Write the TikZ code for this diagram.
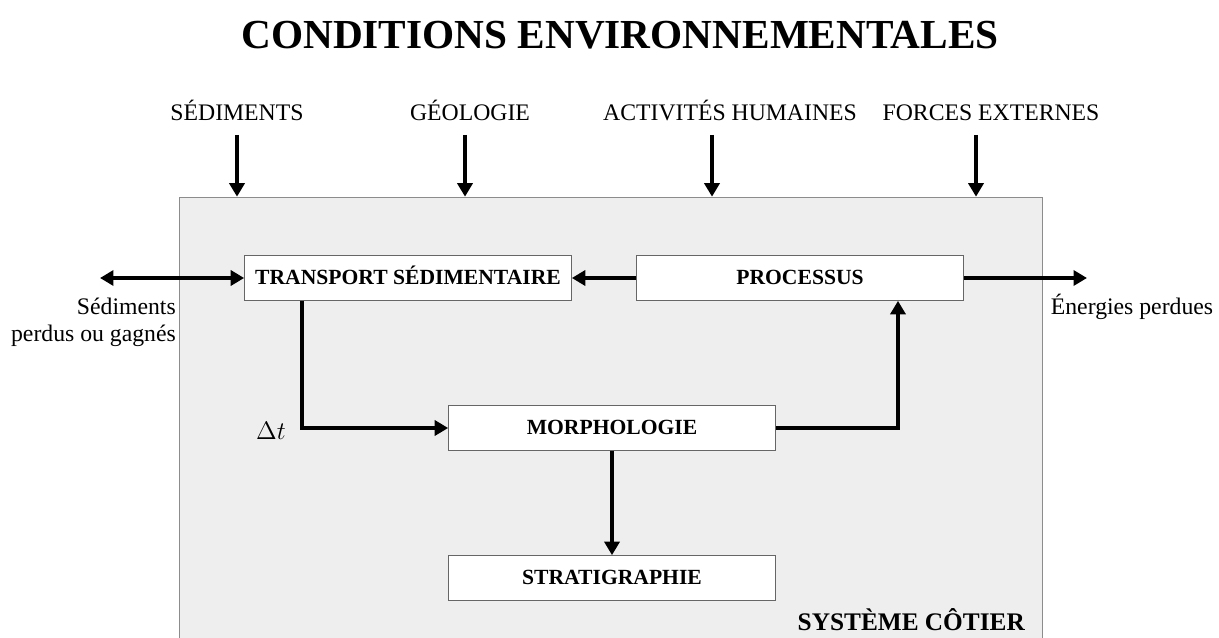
\documentclass[tikz,border=0pt]{standalone}
\usepackage{fontspec}
\setmainfont{Liberation Serif}
\usetikzlibrary{arrows.meta}
\usetikzlibrary{positioning}

\begin{document}
\begin{tikzpicture}[x=0.02cm,y=-0.02cm,
		>={Triangle[length=0.27cm,width=0.3cm]},
		flux/.style={line width=2.2pt,->},
		bloc/.style={draw=gray!80!black,fill=white,minimum width=6.54cm,minimum height=0.9cm,inner sep=0pt,text height=1.55ex,text depth=0pt,font=\fontsize{12.3}{14}\selectfont\bfseries},
		etiquette/.style={font=\fontsize{13.5}{15.3}\selectfont}]
		\useasboundingbox (0,0) rectangle (1219,638);
		% cadre du systeme
		\node[draw=gray!90,fill=gray!13,minimum width=17.26cm,minimum height=8.96cm,inner sep=0pt] (systeme) at (610.5,421) {};
		\node[font=\fontsize{23.5}{28}\selectfont\bfseries] (titre) at (620,35) {CONDITIONS ENVIRONNEMENTALES};
		\node[anchor=base east,font=\fontsize{14.4}{17}\selectfont\bfseries] (cotier) at (1031,630) {SYSTÈME CÔTIER};
		% forçages
		\foreach \nom/\xl/\xf/\texte in {sed/237/237/SÉDIMENTS,geo/470/465/GÉOLOGIE,act/730/712/ACTIVITÉS HUMAINES,for/991/976/FORCES EXTERNES}{
			\node[etiquette,anchor=base] (\nom) at (\xl,121) {\texte};
			\coordinate (\nom haut) at (\xf,135);
			\draw[flux] (\nom haut) -- (\nom haut |- systeme.north);
		}
		% blocs
		\node[bloc] (transport) at (408,278) {TRANSPORT SÉDIMENTAIRE};
		\node[bloc] (processus) at (800,278) {PROCESSUS};
		\node[bloc] (morpho) at (612,428) {MORPHOLOGIE};
		\node[bloc] (strati) at (612,578) {STRATIGRAPHIE};
		% echanges
		\coordinate (gauche) at (100,278);
		\coordinate (droite) at (1087,278);
		\draw[line width=2.2pt,<->] (gauche) -- (transport.west);
		\draw[flux] (processus.east) -- (droite);
		\node[etiquette,align=right,anchor=north east] (perdus) at (182,292) {Sédiments\\perdus ou gagnés};
		\node[etiquette] (energies) at (1132,307) {Énergies perdues};
		% liaisons
		\draw[flux] (processus) -- (transport);
		\draw[flux] ([xshift=1.16cm]transport.south west) |- (morpho.west);
		\node[font=\fontsize{14}{16}\selectfont] (dt) at (271,431) {$\Delta t$};
		\draw[flux] (morpho.east) -| ([xshift=1.96cm]processus.south);
		\draw[flux] (morpho) -- (strati);
	\end{tikzpicture}
\end{document}
